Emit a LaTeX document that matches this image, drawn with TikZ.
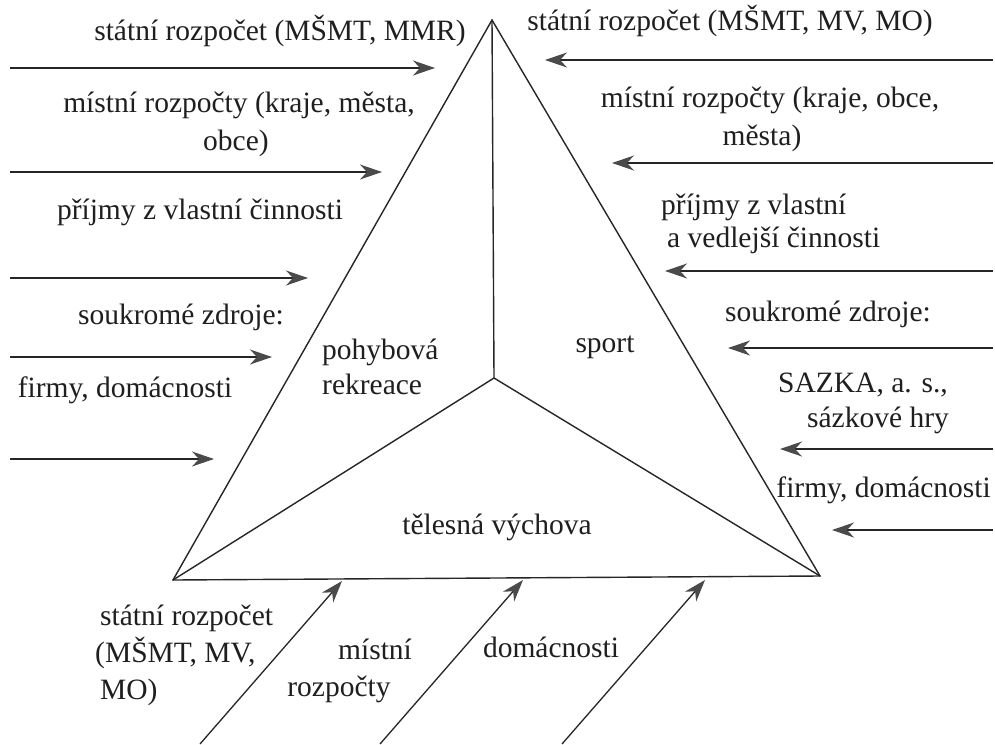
\documentclass[tikz,border=0pt]{standalone}
\usepackage{fontspec}
\setmainfont{Liberation Serif}
\usetikzlibrary{arrows.meta}
\definecolor{tipgray}{HTML}{4A4A4A}
\tikzset{
  lbl/.style={inner sep=0pt, font=\fontsize{29.5}{36}\selectfont, text=black!88},
  edge/.style={draw=black!85, line width=1.4pt},
  flow/.style={draw=black!85, line width=1.3pt,
    -{Stealth[length=22pt, width=15pt, inset=7pt, color=tipgray, fill=tipgray]}}
}
\begin{document}
\begin{tikzpicture}[x=1pt,y=-1pt]
\useasboundingbox[fill=white] (0,0) rectangle (995,744);
% triangle
\coordinate (A) at (492,20);
\coordinate (B) at (173,580);
\coordinate (C) at (820,576);
\coordinate (O) at (494,378);
\draw[edge, line join=miter] (A) -- (B) -- (C) -- cycle;
\draw[edge] (A) -- (O) (B) -- (O) -- (C);
% region labels
\node[lbl, anchor=mid west] (pr1) at (322,357) {pohybová};
\node[lbl, anchor=mid west] (pr2) at (322,392) {rekreace};
\node[lbl, anchor=mid] (sp) at (605,350) {sport};
\node[lbl, anchor=mid] (tv) at (497,532) {tělesná výchova};
% left arrows
\coordinate (l1s) at (10,68);  \coordinate (l1e) at (435,68);
\coordinate (l2s) at (10,172); \coordinate (l2e) at (382,172);
\coordinate (l3s) at (10,278); \coordinate (l3e) at (308,278);
\coordinate (l4s) at (10,357); \coordinate (l4e) at (272,357);
\coordinate (l5s) at (10,459); \coordinate (l5e) at (214,459);
\draw[flow] (l1s) -- (l1e);
\draw[flow] (l2s) -- (l2e);
\draw[flow] (l3s) -- (l3e);
\draw[flow] (l4s) -- (l4e);
\draw[flow] (l5s) -- (l5e);
% left labels
\node[lbl, anchor=mid] (L1) at (280,38) {státní rozpočet (MŠMT, MMR)};
\node[lbl, anchor=mid] (L2a) at (239,110) {místní rozpočty (kraje, města,};
\node[lbl, anchor=mid] (L2b) at (236,148) {obce)};
\node[lbl, anchor=mid] (L3) at (200,217) {příjmy z vlastní činnosti};
\node[lbl, anchor=mid] (L4) at (181,322) {soukromé zdroje:};
\node[lbl, anchor=mid] (L5) at (125,395) {firmy, domácnosti};
% right arrows
\coordinate (r1s) at (993,60);  \coordinate (r1e) at (545,60);
\coordinate (r2s) at (993,163); \coordinate (r2e) at (612,163);
\coordinate (r3s) at (993,271); \coordinate (r3e) at (665,271);
\coordinate (r4s) at (993,348); \coordinate (r4e) at (728,348);
\coordinate (r5s) at (993,449); \coordinate (r5e) at (780,449);
\coordinate (r6s) at (993,530); \coordinate (r6e) at (832,530);
\draw[flow] (r1s) -- (r1e);
\draw[flow] (r2s) -- (r2e);
\draw[flow] (r3s) -- (r3e);
\draw[flow] (r4s) -- (r4e);
\draw[flow] (r5s) -- (r5e);
\draw[flow] (r6s) -- (r6e);
% right labels
\node[lbl, anchor=mid] (R1) at (730,28) {státní rozpočet (MŠMT, MV, MO)};
\node[lbl, anchor=mid] (R2a) at (770,105) {místní rozpočty (kraje, obce,};
\node[lbl, anchor=mid] (R2b) at (762,143) {města)};
\node[lbl, anchor=mid west] (R3a) at (661,212) {příjmy z vlastní};
\node[lbl, anchor=mid west] (R3b) at (667,245) {a vedlejší činnosti};
\node[lbl, anchor=mid] (R4) at (828,319) {soukromé zdroje:};
\node[lbl, anchor=mid] (R5a) at (863,390) {SAZKA, a. s.,};
\node[lbl, anchor=mid] (R5b) at (878,425) {sázkové hry};
\node[lbl, anchor=mid east] (R6) at (991,495) {firmy, domácnosti};
% bottom arrows
\coordinate (b1s) at (200,744); \coordinate (b1e) at (342,581);
\coordinate (b2s) at (380,744); \coordinate (b2e) at (523,580);
\coordinate (b3s) at (562,744); \coordinate (b3e) at (705,580);
\draw[flow] (b1s) -- (b1e);
\draw[flow] (b2s) -- (b2e);
\draw[flow] (b3s) -- (b3e);
% bottom labels
\node[lbl, anchor=mid west] (B1a) at (100,623) {státní rozpočet};
\node[lbl, anchor=mid west] (B1b) at (95,660) {(MŠMT, MV,};
\node[lbl, anchor=mid west] (B1c) at (100,697) {MO)};
\node[lbl, anchor=mid] (B2a) at (375,657) {místní};
\node[lbl, anchor=mid] (B2b) at (339,694) {rozpočty};
\node[lbl, anchor=mid] (B3) at (551,655) {domácnosti};
\end{tikzpicture}
\end{document}
